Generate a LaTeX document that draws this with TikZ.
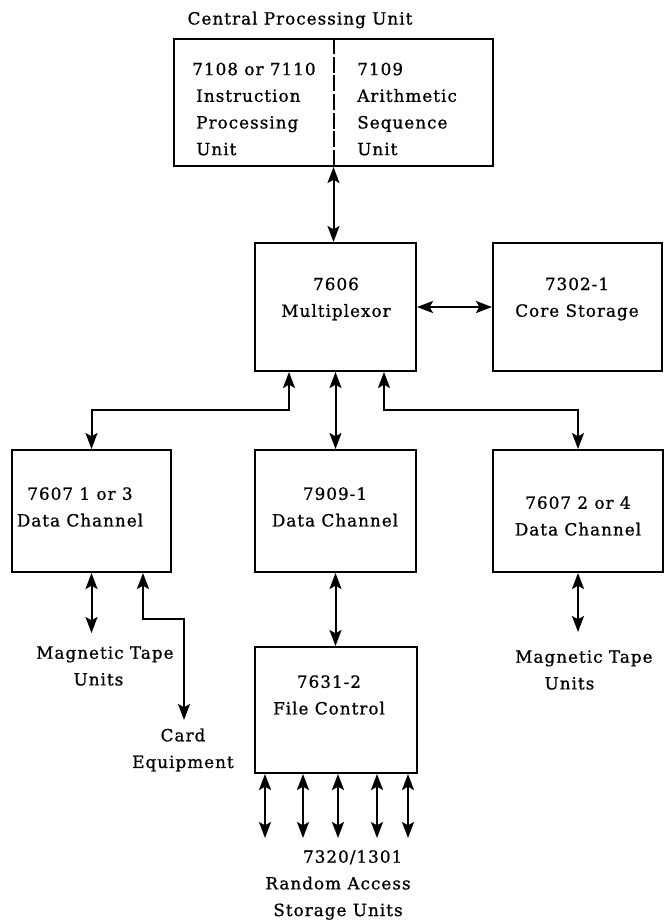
\documentclass[tikz,border=0pt]{standalone}
\usepackage{fontspec}
\setmainfont[LetterSpace=6,FakeBold=0.9]{DejaVu Serif}
\usetikzlibrary{arrows.meta,calc,fit}

\begin{document}
\begin{tikzpicture}[x=0.75pt,y=-0.75pt,
  box/.style={draw,line width=1.5pt,inner sep=0pt},
  lbl/.style={font=\fontsize{12.6}{20}\selectfont,align=center,inner sep=0pt},
  tip/.tip={Stealth[length=12pt,width=9pt,inset=2.5pt]},
  link/.style={line width=1.5pt,tip-tip},
  divider/.style={line width=1.2pt,dash pattern=on 12pt off 2pt},
]
\useasboundingbox (0,0) rectangle (665,922);

% boxes
\node[box,fit={(174,39) (493,166)}] (cpu) {};
\node[box,fit={(255,243) (416,371)}] (mux) {};
\node[box,fit={(493,243) (662,371)}] (core) {};
\node[box,fit={(12,450) (171,572)}] (ch1) {};
\node[box,fit={(255,450) (416,572)}] (ch3) {};
\node[box,fit={(493,450) (663,572)}] (ch2) {};
\node[box,fit={(255,647) (417,773)}] (fc) {};

% split line inside the processing unit
\coordinate (divx) at (334,0);
\draw[divider] (divx |- cpu.north) -- (divx |- cpu.south);

% labels
\node[lbl] (title) at (300,20) {Central Processing Unit};
\node[lbl,align=left,anchor=west] (ipu) at (192,109)
  {7108 or 7110\\\hspace*{3pt}Instruction\\\hspace*{3pt}Processing\\\hspace*{3pt}Unit};
\node[lbl,align=left,anchor=west] (asu) at (357,109)
  {7109\\Arithmetic\\Sequence\\Unit};
\node[lbl] (muxt) at (336,299) {7606\\Multiplexor};
\node[lbl] (coret) at (577,299) {7302-1\\Core Storage};
\node[lbl] (ch1t) at (80,507) {7607 1 or 3\\Data Channel};
\node[lbl] (ch3t) at (335,507) {7909-1\\Data Channel};
\node[lbl] (ch2t) at (578,516) {7607 2 or 4\\Data Channel};
\node[lbl,align=left,anchor=west] (tapeLt) at (36,666) {Magnetic Tape\\\hspace*{28pt}Units};
\node[lbl] (cardt) at (183,750) {Card\\Equipment};
\node[lbl,align=left,anchor=west] (tapeRt) at (515,670) {Magnetic Tape\\\hspace*{22pt}Units};
\node[lbl] (fct) at (329,695) {7631-2\\File Control};
\node[lbl] (rast) at (338,885) {\hspace*{22pt}7320/1301\\Random Access\\Storage Units};

% connector end points
\coordinate (busL) at (289,410);
\coordinate (busR) at (384,410);
\coordinate (cardx) at (143,0);
\coordinate (cardBend) at (184,619);
\coordinate (cardEnd) at (184,720);
\coordinate (tapeLend) at (91.5,633);
\coordinate (tapeRend) at (578,632);

% connectors
\draw[link] (cpu.south) -- (cpu.south |- mux.north);
\draw[link] (mux.east) -- (core.west);
\draw[link] (busL |- mux.south) -- (busL) -| (ch1.north);
\draw[link] (mux.south) -- (ch3.north);
\draw[link] (busR |- mux.south) -- (busR) -| (ch2.north);
\draw[link] (ch1.south) -- (tapeLend);
\draw[link] (cardx |- ch1.south) |- (cardBend) -- (cardEnd);
\draw[link] (ch2.south) -- (tapeRend);
\draw[link] (ch3.south) -- (ch3.south |- fc.north);
\foreach \dx in {-71,-33,2,41,72}
  \draw[link] ($(fc.south)+(\dx,0)$) -- ++(0,64);
\end{tikzpicture}
\end{document}
